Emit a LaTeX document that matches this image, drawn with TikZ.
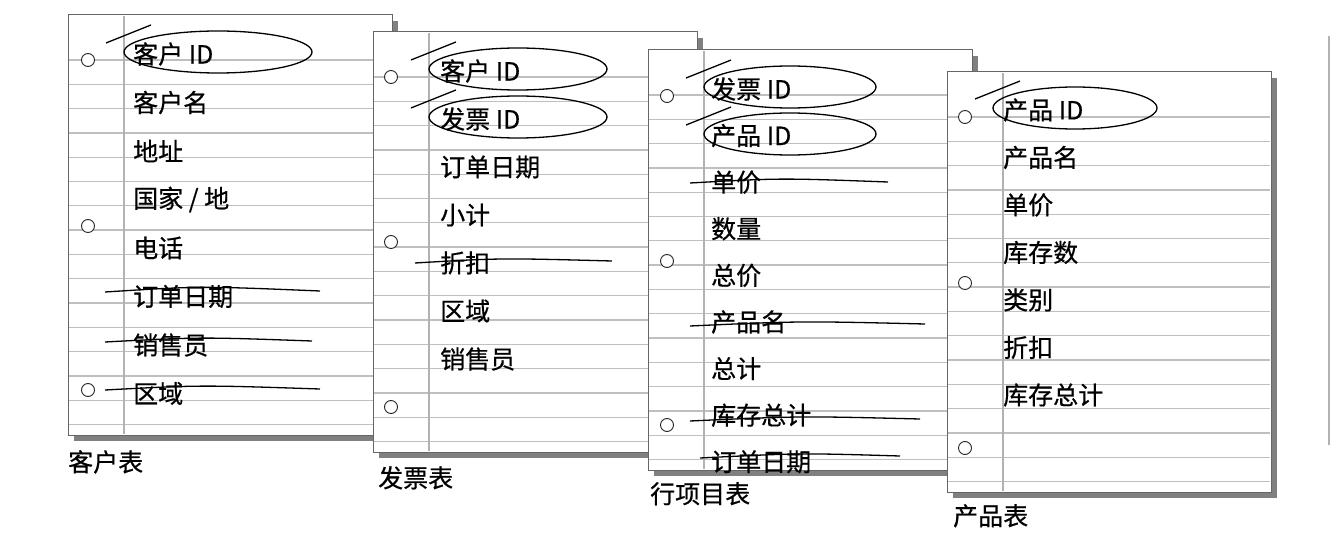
\documentclass[tikz,border=0pt]{standalone}
\usepackage{fontspec}
\setmainfont{Noto Sans CJK SC}[FakeBold=0.6]
\tikzset{
    field/.style={anchor=west, inner sep=0pt, font=\fontsize{25}{28}\selectfont},
    caption/.style={anchor=north west, inner sep=0pt, font=\fontsize{25}{28}\selectfont},
    keyloop/.style={line width=1.3pt},
    strike/.style={line width=1.3pt},
    hole/.style={draw=black!85, circle, minimum size=13pt, inner sep=0pt, fill=white, line width=0.9pt}
}
% sheet: #1 = left x, #2 = top y, #3 = name
\newcommand{\sheet}[3]{
    \fill[black!50] (#1+6,#2+6) rectangle (#1+330,#2+426);
    \draw[fill=white, draw=black!60, line width=1pt] (#1,#2) rectangle (#1+324,#2+420);
    \foreach \r in {0,...,15} {
        \draw[black!25, line width=1.3pt] (#1+1,#2+45+\r*24.3) -- (#1+323,#2+45+\r*24.3);}
    \draw[black!30, line width=1.2pt] (#1+56,#2+1) -- (#1+56,#2+419);
    \coordinate (#3) at (#1,#2);
}
\newcommand{\keyfield}[3]{
    % hand drawn loop round a key field
    \draw[keyloop] (#1+#3,#2-3) ellipse [x radius=#3, y radius=21];
    \draw[keyloop] (#1-18,#2-12) -- (#1+27,#2-30);
}
\begin{document}
\begin{tikzpicture}[x=1pt,y=-1pt]
    \useasboundingbox (0,0) rectangle (1342,540);

    % customer sheet
    \sheet{68}{15}{kunde}
    \foreach \y in {60,226,390} {\node[hole] at (88,\y) {};}
    \foreach \t [count=\i] in {客户 ID,客户名,地址,国家 / 地,电话,订单日期,销售员,区域} {
        \node[field] (k\i) at (133,54+\i*48.5-48.5) {\t};}
    \keyfield{124}{55}{94}
    \draw[strike] (105,292) .. controls (200,286) .. (320,291);
    \draw[strike] (105,342) .. controls (200,337) .. (312,341);
    \draw[strike] (105,390) .. controls (200,385) .. (320,389);
    \node[caption] (kc) at (68,450) {客户表};

    % invoice sheet
    \sheet{373}{32}{rech}
    \foreach \y in {77,242,407} {\node[hole] at (391,\y) {};}
    \foreach \t [count=\i] in {客户 ID,发票 ID,订单日期,小计,折扣,区域,销售员} {
        \node[field] (r\i) at (440,71+\i*48-48) {\t};}
    \keyfield{429}{72}{89}
    \keyfield{429}{120}{89}
    \draw[strike] (415,263) .. controls (500,258) .. (612,261);
    \node[caption] (rc) at (378,466) {发票表};

    % line item sheet
    \sheet{648}{50}{pos}
    \foreach \y in {96,261,425} {\node[hole] at (667,\y) {};}
    \foreach \t [count=\i] in {发票 ID,产品 ID,单价,数量,总价,产品名,总计,库存总计,订单日期} {
        \node[field] (p\i) at (711,89+\i*46.6-46.6) {\t};}
    \keyfield{704}{90}{86}
    \keyfield{704}{137}{86}
    \draw[strike] (690,183) .. controls (780,178) .. (888,182);
    \draw[strike] (690,326) .. controls (800,321) .. (925,324);
    \draw[strike] (690,421) .. controls (800,416) .. (920,419);
    \draw[strike] (700,458) .. controls (800,453) .. (900,456);
    \node[caption] (pc) at (650,482) {行项目表};

    % product sheet
    \sheet{947}{72}{prod}
    \foreach \y in {117,283,448} {\node[hole] at (965,\y) {};}
    \foreach \t [count=\i] in {产品 ID,产品名,单价,库存数,类别,折扣,库存总计} {
        \node[field] (d\i) at (1003,110+\i*47.5-47.5) {\t};}
    \keyfield{993}{111}{82}
    \node[caption] (dc) at (953,504) {产品表};

    % right rule
    \draw[black!30, line width=1.2pt] (1329,36) -- (1329,445);
\end{tikzpicture}
\end{document}
